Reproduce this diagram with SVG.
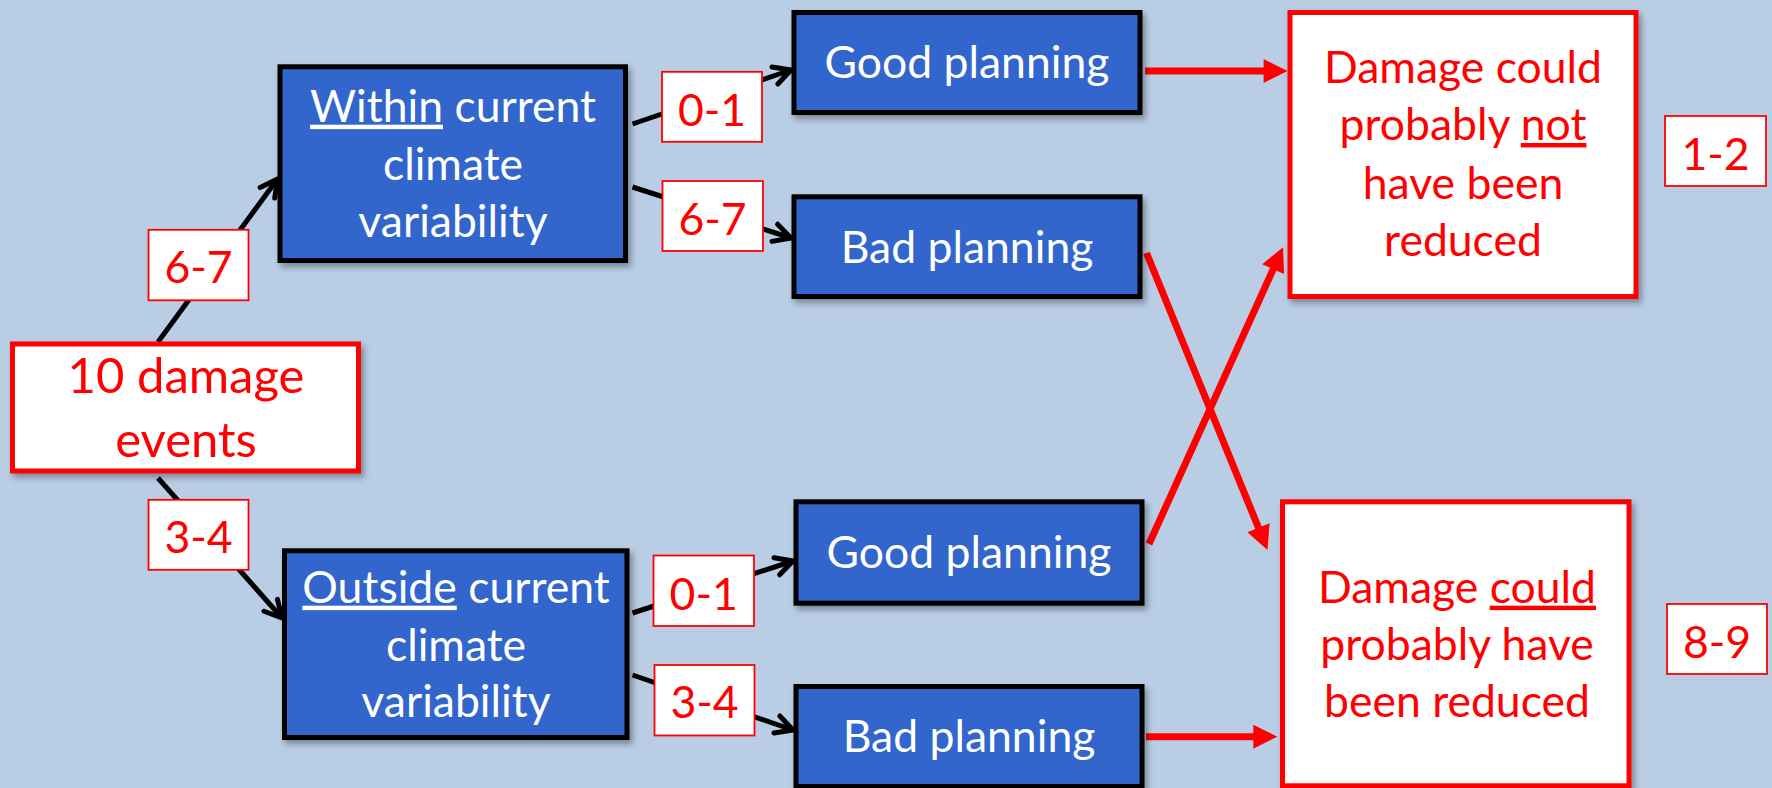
<svg xmlns="http://www.w3.org/2000/svg" width="1772" height="788" viewBox="0 0 1772 788">
<defs>
<filter id="sh" x="-10%" y="-10%" width="130%" height="130%">
<feDropShadow dx="3" dy="4" stdDeviation="3" flood-color="#000" flood-opacity="0.35"/>
</filter>
<marker id="ah" viewBox="0 0 24 24" refX="21" refY="12" markerWidth="24" markerHeight="24" markerUnits="userSpaceOnUse" orient="auto" overflow="visible">
<path d="M4,3 L21,12 L4,21" fill="none" stroke="#000" stroke-width="5" stroke-linecap="round" stroke-linejoin="round"/>
</marker>
<marker id="rh" viewBox="0 0 24 24" refX="12" refY="12" markerWidth="24" markerHeight="24" markerUnits="userSpaceOnUse" orient="auto" overflow="visible">
<path d="M0,0 L24,12 L0,24 Z" fill="#FF0000"/>
</marker>
</defs>
<style>
.bg{fill:#B9CDE5}
.blue{fill:#3366CC;stroke:#000;stroke-width:5;filter:url(#sh)}
.out{fill:#FFFFFF;stroke:#FF0000;stroke-width:5;filter:url(#sh)}
.lab{fill:#FFFFFF;stroke:#FF0000;stroke-width:1.8}
.t{font-family:Lato,"Open Sans",sans-serif;font-size:44.5px;text-anchor:middle}
.w{fill:#FFFFFF}
.r{fill:#FF0000}
.big{font-size:49px}
.bl{fill:none;stroke:#000;stroke-width:5;marker-end:url(#ah)}
.rl{fill:none;stroke:#FF0000;stroke-width:7;marker-end:url(#rh)}
</style>
<rect class="bg" x="0" y="0" width="1772" height="788"/>

<g id="connectors">
<path class="bl" d="M158,342 L277.5,179"/>
<path class="bl" d="M158,478 L282,618"/>
<path class="bl" d="M632.5,124 L791,70"/>
<path class="bl" d="M632.5,187 L791,238"/>
<path class="bl" d="M632.5,613 L793,561"/>
<path class="bl" d="M632.5,675 L793,730"/>
<path class="rl" d="M1145,71 L1275.6,71"/>
<path class="rl" d="M1146.5,253 L1263,538.9"/>
<path class="rl" d="M1149,544 L1278.1,258.2"/>
<path class="rl" d="M1146,736.7 L1265.3,736.7"/>
</g>

<g id="start">
<rect class="out" x="12.5" y="344" width="346" height="127"/>
<text class="t r big" x="186" y="393">10 damage</text>
<text class="t r big" x="186" y="457">events</text>
</g>

<g id="within">
<rect class="blue" x="280" y="66.8" width="345.5" height="193.7"/>
<text class="t w" x="453" y="121.7"><tspan text-decoration="underline">Within</tspan> current</text>
<text class="t w" x="453" y="180">climate</text>
<text class="t w" x="453" y="236.7">variability</text>
</g>

<g id="outside">
<rect class="blue" x="284.5" y="550.8" width="342.5" height="186.7"/>
<text class="t w" x="456" y="602.7"><tspan text-decoration="underline">Outside</tspan> current</text>
<text class="t w" x="456" y="661">climate</text>
<text class="t w" x="456" y="716.7">variability</text>
</g>

<g id="good1">
<rect class="blue" x="794" y="12.5" width="346" height="100"/>
<text class="t w" x="967" y="78.3">Good planning</text>
</g>

<g id="bad1">
<rect class="blue" x="794" y="196.8" width="346" height="99.7"/>
<text class="t w" x="967" y="263.3">Bad planning</text>
</g>

<g id="good2">
<rect class="blue" x="796" y="501.8" width="346" height="101.4"/>
<text class="t w" x="969" y="568.3">Good planning</text>
</g>

<g id="bad2">
<rect class="blue" x="796" y="686.5" width="346" height="100"/>
<text class="t w" x="969" y="751.7">Bad planning</text>
</g>

<g id="outcome1">
<rect class="out" x="1290" y="12.5" width="346" height="284"/>
<text class="t r" x="1463" y="83.3">Damage could</text>
<text class="t r" x="1463" y="140">probably <tspan text-decoration="underline">not</tspan></text>
<text class="t r" x="1463" y="199.3">have been</text>
<text class="t r" x="1463" y="256">reduced</text>
</g>

<g id="outcome2">
<rect class="out" x="1282.5" y="501.8" width="346.5" height="284"/>
<text class="t r" x="1457" y="602.7">Damage <tspan text-decoration="underline">could</tspan></text>
<text class="t r" x="1457" y="660">probably have</text>
<text class="t r" x="1457" y="717.3">been reduced</text>
</g>

<g id="lab-6-7a">
<rect class="lab" x="148.5" y="229.8" width="100" height="70.5"/>
<text class="t r" x="198.5" y="283">6-7</text>
</g>
<g id="lab-3-4a">
<rect class="lab" x="148.5" y="499.8" width="100" height="70"/>
<text class="t r" x="198.5" y="553">3-4</text>
</g>
<g id="lab-0-1a">
<rect class="lab" x="662" y="71.8" width="100" height="70"/>
<text class="t r" x="712" y="126">0-1</text>
</g>
<g id="lab-6-7b">
<rect class="lab" x="662.5" y="181" width="100.5" height="70"/>
<text class="t r" x="712.5" y="235">6-7</text>
</g>
<g id="lab-0-1b">
<rect class="lab" x="653.5" y="555.5" width="100.5" height="70.5"/>
<text class="t r" x="703.7" y="610">0-1</text>
</g>
<g id="lab-3-4b">
<rect class="lab" x="654.5" y="665" width="100" height="70.5"/>
<text class="t r" x="704.5" y="718.3">3-4</text>
</g>
<g id="lab-1-2">
<rect class="lab" x="1665" y="116" width="101" height="70"/>
<text class="t r" x="1715.5" y="170">1-2</text>
</g>
<g id="lab-8-9">
<rect class="lab" x="1667" y="604" width="100" height="70"/>
<text class="t r" x="1717" y="657.7">8-9</text>
</g>
</svg>
